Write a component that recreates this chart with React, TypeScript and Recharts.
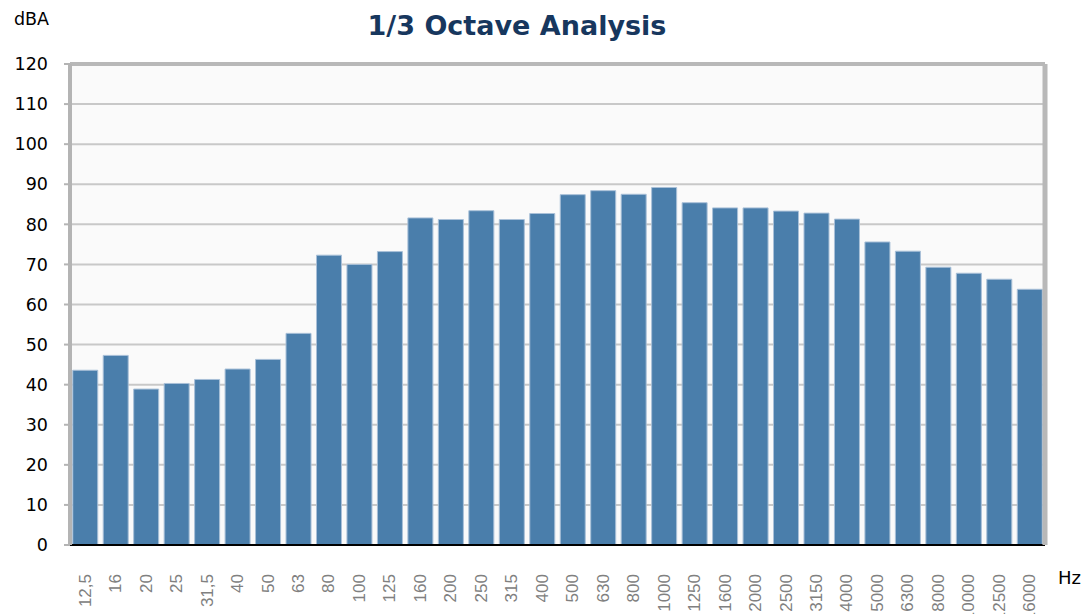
import React from "react";
import {
  BarChart,
  Bar,
  XAxis,
  YAxis,
  CartesianGrid,
} from "recharts";

const bands = [
  "12,5", "16", "20", "25", "31,5", "40", "50", "63", "80", "100", "125",
  "160", "200", "250", "315", "400", "500", "630", "800", "1000", "1250",
  "1600", "2000", "2500", "3150", "4000", "5000", "6300", "8000", "10000",
  "12500", "16000",
];

const levels = [
  43.6, 47.3, 38.9, 40.3, 41.3, 43.9, 46.3, 52.8, 72.3, 70.0, 73.2,
  81.6, 81.2, 83.4, 81.2, 82.7, 87.4, 88.4, 87.5, 89.2, 85.4,
  84.1, 84.1, 83.3, 82.8, 81.3, 75.6, 73.3, 69.3, 67.8, 66.3, 63.8,
];

const yTicks = [0, 10, 20, 30, 40, 50, 60, 70, 80, 90, 100, 110, 120];
const majorTicks = [0, 5, 10, 15, 20, 25, 30];

const data = bands.map((hz, i) => ({ hz, level: levels[i] }));

// rotated band label, reads bottom-up like the original export
const BandTick = (props: any) => {
  const { x, y, payload } = props;
  return (
    <text
      transform={`translate(${x},${y + 20}) rotate(-90)`}
      textAnchor="end"
      dominantBaseline="central"
      fill="#808080"
      fontSize={17}
      fontFamily="'Liberation Sans', Arial, sans-serif"
    >
      {payload.value}
    </text>
  );
};

export default function App() {
  return (
    <div style={{ position: "absolute", left: 0, top: 0, width: 1086, height: 614, background: "#fff" }}>
      <BarChart
        width={1086}
        height={614}
        data={data}
        margin={{ top: 63, right: 40, bottom: 0, left: 0 }}
        barCategoryGap="9%"
      >
        <CartesianGrid
          vertical={false}
          stroke="#c8c8c8"
          strokeWidth={2}
          fill="#fafafa"
          yAxisId="left"
          xAxisId="band"
        />
        <XAxis
          xAxisId="band"
          dataKey="hz"
          height={68}
          interval={0}
          axisLine={false}
          tickLine={false}
          tick={<BandTick />}
        />
        <XAxis
          xAxisId="a"
          type="number"
          domain={[0, bands.length]}
          ticks={majorTicks}
          height={1}
          axisLine={{ stroke: "#000", strokeWidth: 2 }}
          tick={false}
          tickLine={{ stroke: "#000", strokeWidth: 2.5 }}
          tickSize={7}
        />
        <XAxis
          xAxisId="top"
          dataKey="hz"
          orientation="top"
          height={1}
          tick={false}
          tickLine={false}
          axisLine={{ stroke: "#b8b8b8", strokeWidth: 4 }}
        />
        <YAxis
          yAxisId="left"
          width={70}
          domain={[0, 120]}
          ticks={yTicks}
          interval={0}
          axisLine={{ stroke: "#b4b4b4", strokeWidth: 4 }}
          tickLine={{ stroke: "#b4b4b4", strokeWidth: 2 }}
          tickSize={6}
          tickMargin={16}
          tick={{ fill: "#000", fontSize: 17.5, fontFamily: "'DejaVu Sans', Verdana, sans-serif" }}
        />
        <YAxis
          yAxisId="right"
          orientation="right"
          width={1}
          domain={[0, 120]}
          tick={false}
          tickLine={false}
          axisLine={{ stroke: "#b8b8b8", strokeWidth: 5 }}
        />
        <Bar
          dataKey="level"
          xAxisId="band"
          yAxisId="left"
          fill="#4a7eab"
          stroke="#a9c0d8"
          strokeWidth={1}
          isAnimationActive={false}
        />
        <text
          x={517}
          y={25}
          textAnchor="middle"
          dominantBaseline="central"
          fill="#17375e"
          fontSize={27}
          fontWeight="bold"
          fontFamily="'DejaVu Sans', Verdana, sans-serif"
        >
          1/3 Octave Analysis
        </text>
        <text
          x={14}
          y={19}
          dominantBaseline="central"
          fill="#000"
          fontSize={17.5}
          fontFamily="'DejaVu Sans', Verdana, sans-serif"
        >
          dBA
        </text>
        <text
          x={1058}
          y={577}
          dominantBaseline="central"
          fill="#000"
          fontSize={18}
          fontFamily="'DejaVu Sans', Verdana, sans-serif"
        >
          Hz
        </text>
      </BarChart>
    </div>
  );
}
